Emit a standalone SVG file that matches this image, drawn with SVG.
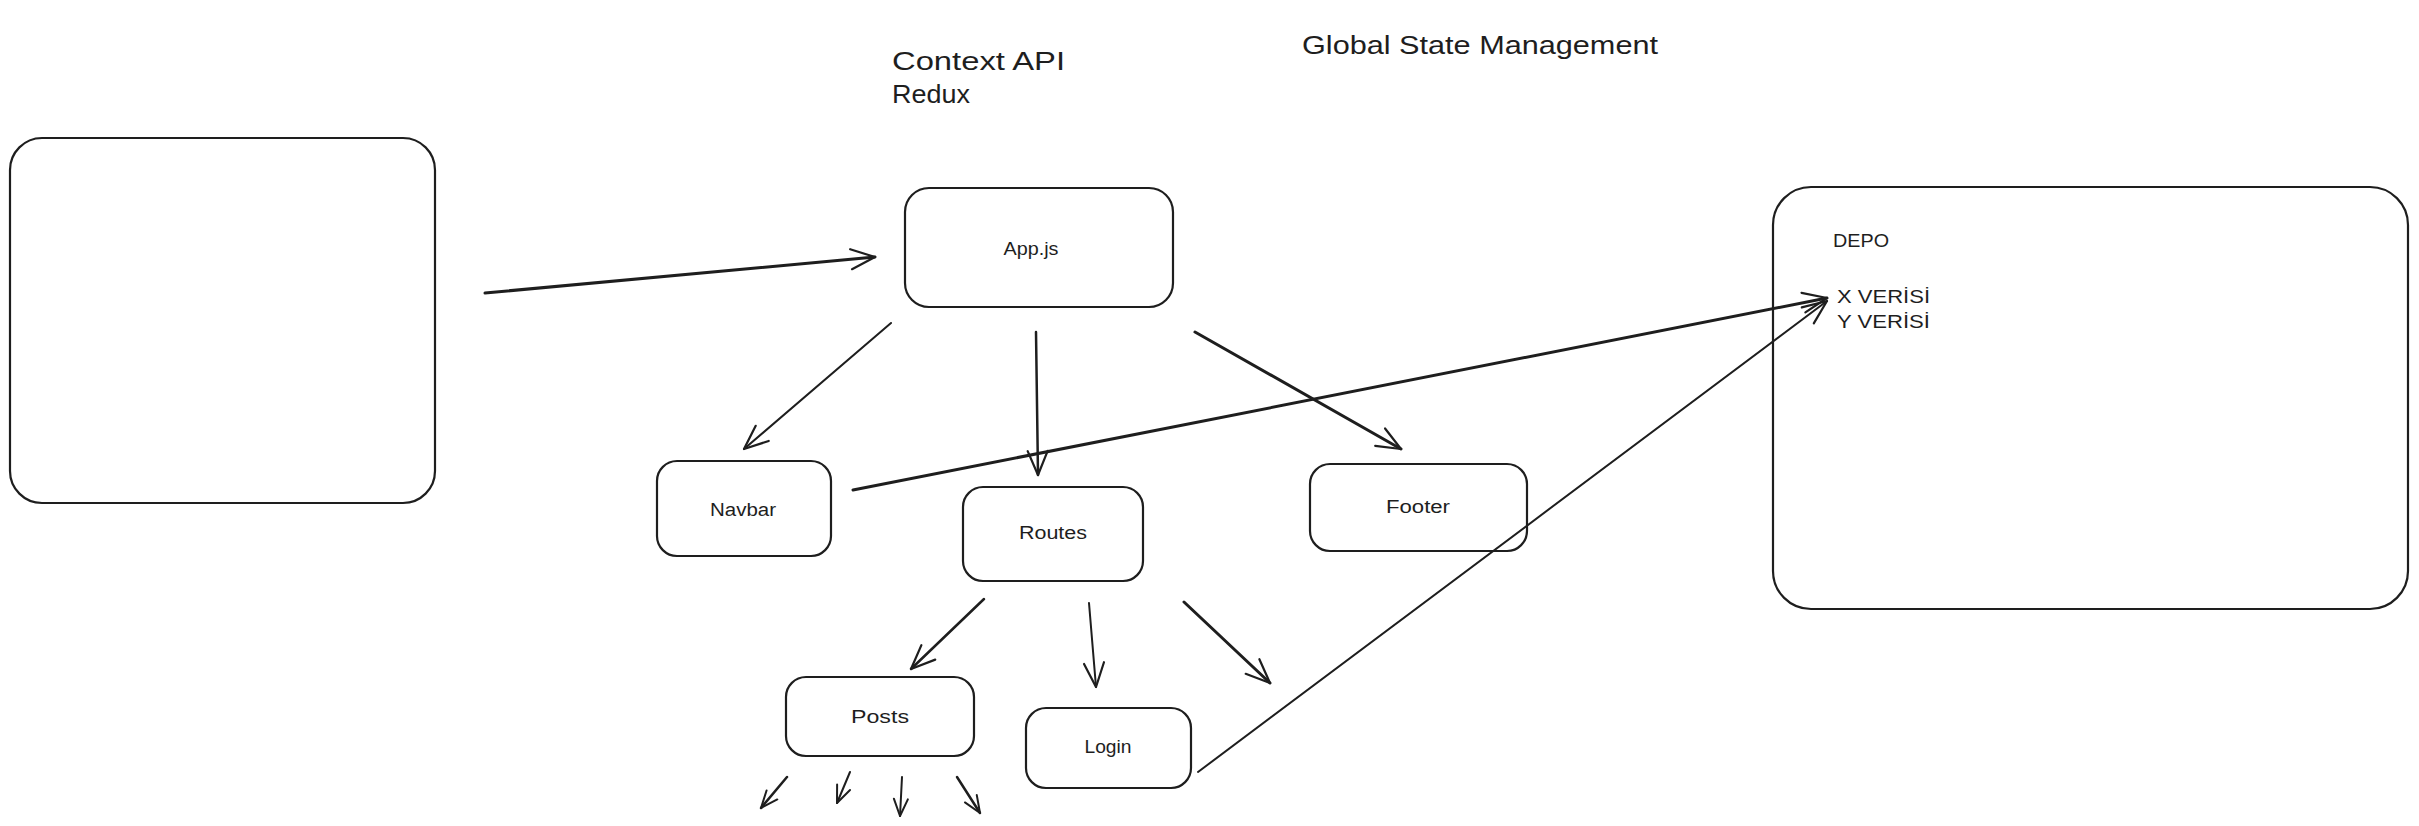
<svg xmlns="http://www.w3.org/2000/svg" width="2419" height="826" viewBox="0 0 2419 826">
  <style>
    .box { fill: none; stroke: #1e1e1e; stroke-width: 2.2; }
    .lbl { font-family: "Liberation Sans", Arial, sans-serif; font-size: 18px; fill: #1e1e1e; }
    .big { font-family: "Liberation Sans", Arial, sans-serif; font-size: 26px; fill: #1e1e1e; }
    .conn line { stroke: #1e1e1e; stroke-linecap: round; fill: none; }
  </style>
  <defs>
    <marker id="ah" viewBox="-30 -15 34 30" refX="0" refY="0" markerWidth="34" markerHeight="30" markerUnits="userSpaceOnUse" orient="auto" overflow="visible">
      <path d="M-24,-10 L0,0 L-24,10" fill="none" stroke="#1e1e1e" stroke-width="2.2" stroke-linecap="round" stroke-linejoin="round"/>
    </marker>
    <marker id="ahs" viewBox="-20 -10 24 20" refX="0" refY="0" markerWidth="24" markerHeight="20" markerUnits="userSpaceOnUse" orient="auto" overflow="visible">
      <path d="M-17,-7 L0,0 L-17,7" fill="none" stroke="#1e1e1e" stroke-width="2" stroke-linecap="round" stroke-linejoin="round"/>
    </marker>
  </defs>
  <rect width="2419" height="826" fill="#ffffff"/>

  <g id="title-texts">
    <text class="big" x="892" y="70" textLength="173" lengthAdjust="spacingAndGlyphs">Context API</text>
    <text class="big" x="892" y="103" textLength="78" lengthAdjust="spacingAndGlyphs">Redux</text>
    <text class="big" x="1302" y="54" textLength="356" lengthAdjust="spacingAndGlyphs">Global State Management</text>
  </g>

  <g id="node-left">
    <rect class="box" x="10" y="138" width="425" height="365" rx="32"/>
  </g>
  <g id="node-app">
    <rect class="box" x="905" y="188" width="268" height="119" rx="24"/>
    <text class="lbl" x="1031" y="255" text-anchor="middle" textLength="55" lengthAdjust="spacingAndGlyphs">App.js</text>
  </g>
  <g id="node-navbar">
    <rect class="box" x="657" y="461" width="174" height="95" rx="20"/>
    <text class="lbl" x="743" y="516" text-anchor="middle" textLength="66" lengthAdjust="spacingAndGlyphs">Navbar</text>
  </g>
  <g id="node-routes">
    <rect class="box" x="963" y="487" width="180" height="94" rx="20"/>
    <text class="lbl" x="1053" y="539" text-anchor="middle" textLength="68" lengthAdjust="spacingAndGlyphs">Routes</text>
  </g>
  <g id="node-footer">
    <rect class="box" x="1310" y="464" width="217" height="87" rx="20"/>
    <text class="lbl" x="1418" y="513" text-anchor="middle" textLength="64" lengthAdjust="spacingAndGlyphs">Footer</text>
  </g>
  <g id="node-posts">
    <rect class="box" x="786" y="677" width="188" height="79" rx="20"/>
    <text class="lbl" x="880" y="723" text-anchor="middle" textLength="58" lengthAdjust="spacingAndGlyphs">Posts</text>
  </g>
  <g id="node-login">
    <rect class="box" x="1026" y="708" width="165" height="80" rx="20"/>
    <text class="lbl" x="1108" y="753" text-anchor="middle" textLength="47" lengthAdjust="spacingAndGlyphs">Login</text>
  </g>
  <g id="node-depo">
    <rect class="box" x="1773" y="187" width="635" height="422" rx="38"/>
    <text class="lbl" x="1833" y="247" textLength="56" lengthAdjust="spacingAndGlyphs">DEPO</text>
    <text class="lbl" x="1837" y="303" textLength="93" lengthAdjust="spacingAndGlyphs">X VERİSİ</text>
    <text class="lbl" x="1837" y="328" textLength="93" lengthAdjust="spacingAndGlyphs">Y VERİSİ</text>
  </g>

  <g id="connectors" class="conn">
    <line x1="485" y1="293" x2="875" y2="257" stroke-width="3" marker-end="url(#ah)"/>
    <line x1="891" y1="323" x2="744" y2="449" stroke-width="2" marker-end="url(#ah)"/>
    <line x1="1036" y1="332" x2="1038" y2="475" stroke-width="2.5" marker-end="url(#ah)"/>
    <line x1="1195" y1="332" x2="1401" y2="449" stroke-width="3" marker-end="url(#ah)"/>
    <line x1="853" y1="490" x2="1827" y2="298" stroke-width="3" marker-end="url(#ah)"/>
    <line x1="1198" y1="772" x2="1827" y2="301" stroke-width="2" marker-end="url(#ah)"/>
    <line x1="984" y1="599" x2="911" y2="669" stroke-width="2.5" marker-end="url(#ah)"/>
    <line x1="1089" y1="603" x2="1096" y2="687" stroke-width="2" marker-end="url(#ah)"/>
    <line x1="1184" y1="602" x2="1270" y2="683" stroke-width="3" marker-end="url(#ah)"/>
    <line x1="787" y1="777" x2="761" y2="808" stroke-width="2.5" marker-end="url(#ahs)"/>
    <line x1="850" y1="772" x2="837" y2="803" stroke-width="2" marker-end="url(#ahs)"/>
    <line x1="902" y1="777" x2="900" y2="816" stroke-width="2" marker-end="url(#ahs)"/>
    <line x1="957" y1="777" x2="980" y2="813" stroke-width="2.5" marker-end="url(#ahs)"/>
  </g>
</svg>
